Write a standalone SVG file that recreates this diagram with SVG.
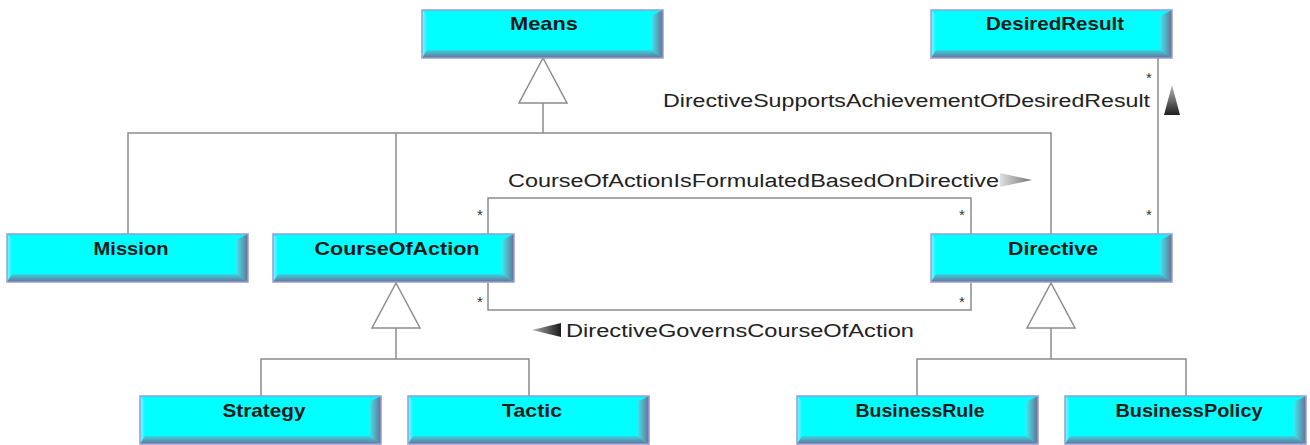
<svg xmlns="http://www.w3.org/2000/svg" xmlns:xlink="http://www.w3.org/1999/xlink" width="1310" height="445" viewBox="0 0 1310 445">
<defs>
<style>
.lbl{font-family:"Liberation Sans",Arial,sans-serif;font-weight:bold;font-size:19px;fill:#1a1a1a;text-anchor:middle}
.asc{font-family:"Liberation Sans",Arial,sans-serif;font-size:18px;fill:#222}
.star{font-family:"Liberation Sans",Arial,sans-serif;font-size:15px;fill:#333;text-anchor:middle}
.ln{fill:none;stroke:#8c8c8c;stroke-width:1.5}
.gen{fill:#fff;stroke:#8c8c8c;stroke-width:1.5}
</style>
<linearGradient id="gR" x1="0" y1="0" x2="1" y2="0">
<stop offset="0" stop-color="#3fe8f0"/><stop offset="1" stop-color="#6a6f92"/>
</linearGradient>
<linearGradient id="gB" x1="0" y1="0" x2="0" y2="1">
<stop offset="0" stop-color="#35d8e6"/><stop offset="1" stop-color="#6a7090"/>
</linearGradient>
<linearGradient id="gL" x1="0" y1="0" x2="1" y2="0">
<stop offset="0" stop-color="#7ff8ff"/><stop offset="1" stop-color="#10f8ff"/>
</linearGradient>
<linearGradient id="aUp" x1="0" y1="0" x2="0" y2="1">
<stop offset="0" stop-color="#bbbbbb"/><stop offset="1" stop-color="#1e1e1e"/>
</linearGradient>
<linearGradient id="aR" x1="0" y1="0" x2="1" y2="0">
<stop offset="0" stop-color="#e0e0e0"/><stop offset="1" stop-color="#707070"/>
</linearGradient>
<linearGradient id="aL" x1="1" y1="0" x2="0" y2="0">
<stop offset="0" stop-color="#1a1a1a"/><stop offset="1" stop-color="#b0b0b0"/>
</linearGradient>
<g id="box">
<rect x="0" y="0" width="241" height="48" fill="#00ffff"/>
<polygon points="0,0 5,5 5,40 0,48" fill="url(#gL)"/>
<polygon points="229,6 241,0 241,48 229,40" fill="url(#gR)"/>
<polygon points="5,40 229,40 241,48 0,48" fill="url(#gB)"/>
<rect x="0" y="0" width="241" height="48" fill="none" stroke="#9a9ad8" stroke-width="1.5"/>
</g>
</defs>
<rect width="1310" height="445" fill="#fff"/>

<g id="connectors">
<!-- generalization to Means -->
<polyline class="ln" points="128,234 128,133 1051,133 1051,234"/>
<line class="ln" x1="396" y1="133" x2="396" y2="234"/>
<line class="ln" x1="543" y1="103" x2="543" y2="133"/>
<polygon class="gen" points="543,58 519,103 567,103"/>
<!-- generalization to CourseOfAction -->
<polyline class="ln" points="261,397 261,359 529,359 529,397"/>
<line class="ln" x1="396" y1="328" x2="396" y2="359"/>
<polygon class="gen" points="396,283 372,328 420,328"/>
<!-- generalization to Directive -->
<polyline class="ln" points="917,397 917,359 1186,359 1186,397"/>
<line class="ln" x1="1051" y1="328" x2="1051" y2="359"/>
<polygon class="gen" points="1051,283 1027,328 1075,328"/>
<!-- CourseOfActionIsFormulatedBasedOnDirective -->
<polyline class="ln" points="488,234 488,198 971,198 971,234"/>
<text class="star" x="480" y="220">*</text>
<text class="star" x="962" y="220">*</text>
<text class="asc" x="508" y="187" textLength="491" lengthAdjust="spacingAndGlyphs">CourseOfActionIsFormulatedBasedOnDirective</text>
<polygon points="1000,173 1032,180 1000,187" fill="url(#aR)"/>
<!-- DirectiveGovernsCourseOfAction -->
<polyline class="ln" points="488,283 488,310 971,310 971,283"/>
<text class="star" x="480" y="307">*</text>
<text class="star" x="962" y="307">*</text>
<polygon points="532,330 561,323 561,337" fill="url(#aL)"/>
<text class="asc" x="566" y="337" textLength="348" lengthAdjust="spacingAndGlyphs">DirectiveGovernsCourseOfAction</text>
<!-- DirectiveSupportsAchievementOfDesiredResult -->
<line class="ln" x1="1158" y1="58" x2="1158" y2="234"/>
<text class="star" x="1149" y="83">*</text>
<text class="star" x="1149" y="220">*</text>
<text class="asc" x="663" y="107" textLength="487" lengthAdjust="spacingAndGlyphs">DirectiveSupportsAchievementOfDesiredResult</text>
<polygon points="1172,85 1164,115 1180,115" fill="url(#aUp)"/>
</g>

<g id="Means"><use xlink:href="#box" x="422" y="10"/><text class="lbl" x="544" y="30" textLength="68" lengthAdjust="spacingAndGlyphs">Means</text></g>
<g id="DesiredResult"><use xlink:href="#box" x="931" y="10"/><text class="lbl" x="1055" y="30" textLength="138" lengthAdjust="spacingAndGlyphs">DesiredResult</text></g>
<g id="Mission"><use xlink:href="#box" x="7" y="234"/><text class="lbl" x="131" y="255" textLength="75" lengthAdjust="spacingAndGlyphs">Mission</text></g>
<g id="CourseOfAction"><use xlink:href="#box" x="273" y="234"/><text class="lbl" x="397" y="255" textLength="165" lengthAdjust="spacingAndGlyphs">CourseOfAction</text></g>
<g id="Directive"><use xlink:href="#box" x="931" y="234"/><text class="lbl" x="1053" y="255" textLength="90" lengthAdjust="spacingAndGlyphs">Directive</text></g>
<g id="Strategy"><use xlink:href="#box" x="140" y="396"/><text class="lbl" x="264" y="417" textLength="83" lengthAdjust="spacingAndGlyphs">Strategy</text></g>
<g id="Tactic"><use xlink:href="#box" x="408" y="396"/><text class="lbl" x="532" y="417" textLength="60" lengthAdjust="spacingAndGlyphs">Tactic</text></g>
<g id="BusinessRule"><use xlink:href="#box" x="797" y="396"/><text class="lbl" x="920" y="417" textLength="129" lengthAdjust="spacingAndGlyphs">BusinessRule</text></g>
<g id="BusinessPolicy"><use xlink:href="#box" x="1065" y="396"/><text class="lbl" x="1189" y="417" textLength="147" lengthAdjust="spacingAndGlyphs">BusinessPolicy</text></g>
</svg>
